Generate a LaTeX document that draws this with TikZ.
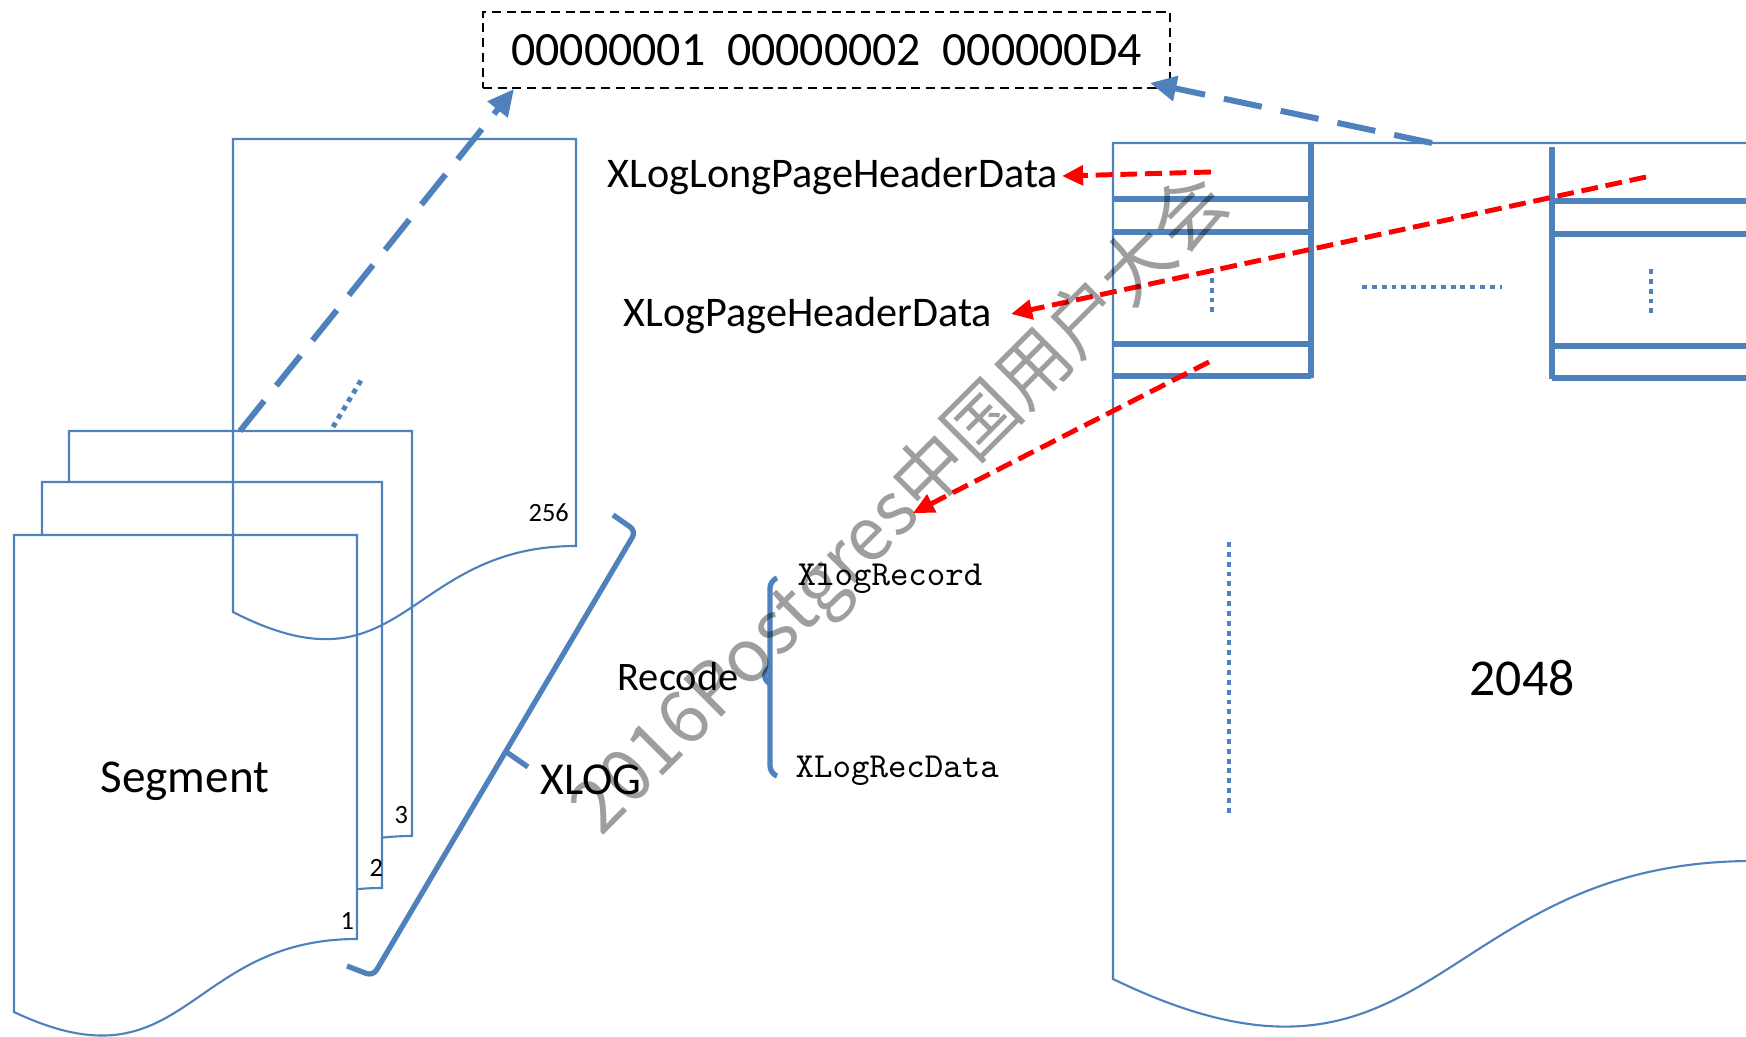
\documentclass[tikz,border=0pt]{standalone}
\usepackage{fontspec}
\setmainfont{Carlito}
\newfontfamily\cjk{Noto Sans CJK SC}
\usetikzlibrary{arrows.meta}
\definecolor{xblue}{RGB}{79,129,189}

\begin{document}
\begin{tikzpicture}[x=0.01cm,y=-0.01cm]
	\def\pagetop{143}
	\def\pageleft{1113}
	\def\rowa{199}
	\def\rowb{232}
	\def\rowc{344}
	\def\rowd{376}

	\tikzstyle{docpage}=[draw=xblue,line width=0.6pt]
	\tikzstyle{blockline}=[draw=xblue,line width=1.5pt]
	\tikzstyle{dotline}=[draw=xblue,line width=1.4pt,dash pattern=on 1.4pt off 1.4pt]
	\tikzstyle{linkarrow}=[draw=xblue,line width=1.7pt,dash pattern=on 11pt off 5.5pt,-{Triangle[length=7.5pt,width=7pt]}]
	\tikzstyle{ptrarrow}=[draw=red,line width=1.4pt,dash pattern=on 4.8pt off 2.2pt,-{Triangle[length=6pt,width=5.5pt]}]
	\tikzstyle{xbrace}=[draw=xblue,line width=1.5pt,rounded corners=2pt]
	\tikzstyle{hexbox}=[draw=black,line width=0.6pt,dash pattern=on 2.6pt off 1.6pt,minimum width=6.87cm,minimum height=0.76cm,inner sep=0pt]
	\tikzstyle{lbl}=[inner sep=0pt,anchor=base west]
	\tikzstyle{monolbl}=[inner sep=0pt,anchor=base west,font=\fontsize{10}{12}\ttfamily]
	\tikzstyle{wmark}=[inner sep=0pt,anchor=base west,text=black,opacity=0.38,font=\fontsize{20.8}{24}\cjk]

	\useasboundingbox (0,0) rectangle (1746,1037);
	\clip (0,0) rectangle (1746,1037);

	% segment files
	\draw[docpage,fill=white] (69,431) -- (412,431) -- (412,836) .. controls (240.5,836) and (240.5,990) .. (69,903) -- cycle;
	\draw[docpage,fill=white] (42,482) -- (382,482) -- (382,888) .. controls (212,888) and (212,1042) .. (42,955) -- cycle;
	\draw[docpage,fill=white] (14,535) -- (357,535) -- (357,939) .. controls (185.5,939) and (185.5,1093) .. (14,1012) -- cycle;
	\draw[docpage] (233,139) -- (576,139) -- (576,546) .. controls (404.5,546) and (404.5,700) .. (233,612) -- cycle;

	\node[lbl,font=\fontsize{13.4}{16}\selectfont] (segment) at (100,792) {Segment};
	\node[lbl,font=\fontsize{7.5}{9}\selectfont] (n1) at (340,929) {1};
	\node[lbl,font=\fontsize{7.5}{9}\selectfont] (n2) at (369,876) {2};
	\node[lbl,font=\fontsize{7.5}{9}\selectfont] (n3) at (394,823) {3};
	\node[lbl,font=\fontsize{7.5}{9}\selectfont] (n256) at (528,522) {256};
	\draw[dotline] (333,427) -- (363,377);

	% file name
	\node[hexbox,font=\fontsize{13.6}{17}\selectfont] (hexbox) at (826.5,50) {00000001~~00000002~~000000D4};
	\coordinate (segtop) at (240,431);
	\coordinate (hexin) at (514,89);
	\coordinate (pagemark) at (1432,143);
	\coordinate (hexout) at (1150,83);
	\draw[linkarrow] (segtop) -- (hexin);
	\draw[linkarrow] (pagemark) -- (hexout);

	% XLOG brace
	\draw[xbrace] (613,515) -- (636,531) -- (373,976) -- (347,966);
	\draw[xbrace] (505,751) -- (528,767);
	\node[lbl,font=\fontsize{13}{16}\selectfont] (xlog) at (540,794) {XLOG};

	% record
	\draw[xbrace] (777,578) -- (770,581) -- (770,773) -- (777,776);
	\draw[xbrace] (770,666) -- (762,677) -- (770,684);
	\node[lbl,font=\fontsize{11.5}{14}\selectfont] (recode) at (617,690) {Recode};
	\node[monolbl] (xlogrecord) at (797,586) {XlogRecord};
	\node[monolbl] (xlogrecdata) at (795,777) {XLogRecData};

	% headers
	\node[lbl,font=\fontsize{12}{14}\selectfont] (longhdr) at (607,188) {XLogLongPageHeaderData};
	\node[lbl,font=\fontsize{12}{14}\selectfont] (pagehdr) at (623,327) {XLogPageHeaderData};

	% page
	\draw[docpage] (\pageleft,\pagetop) -- (1753,\pagetop) -- (1753,861) .. controls (1433,861) and (1433,1134) .. (\pageleft,979) -- cycle;
	\draw[blockline] (1311,\pagetop) -- (1311,378);
	\draw[blockline] (1552,147) -- (1552,379);
	\foreach \y in {\rowa,\rowb,\rowc,\rowd} {
		\draw[blockline] (\pageleft,\y) -- (1311,\y);
		\draw[blockline] (1552,\y+2) -- (1760,\y+2);
	}
	\draw[dotline] (1212,268) -- (1212,314);
	\draw[dotline] (1362,287) -- (1502,287);
	\draw[dotline] (1651,269) -- (1651,316);
	\draw[dotline] (1229,542) -- (1229,814);
	\node[lbl,font=\fontsize{14.7}{18}\selectfont] (blocks) at (1469,695) {2048};

	% pointers
	\coordinate (cella) at (1211,172);
	\coordinate (cellb) at (1646,177);
	\coordinate (cellc) at (1209,362);
	\coordinate (longin) at (1062,176);
	\coordinate (pagein) at (1011,314);
	\coordinate (recin) at (913,513);
	\draw[ptrarrow] (cella) -- (longin);
	\draw[ptrarrow] (cellb) -- (pagein);
	\draw[ptrarrow] (cellc) -- (recin);

	\node[wmark,rotate=45] (wm) at (601,838) {2016Postgres中国用户大会};
\end{tikzpicture}
\end{document}
